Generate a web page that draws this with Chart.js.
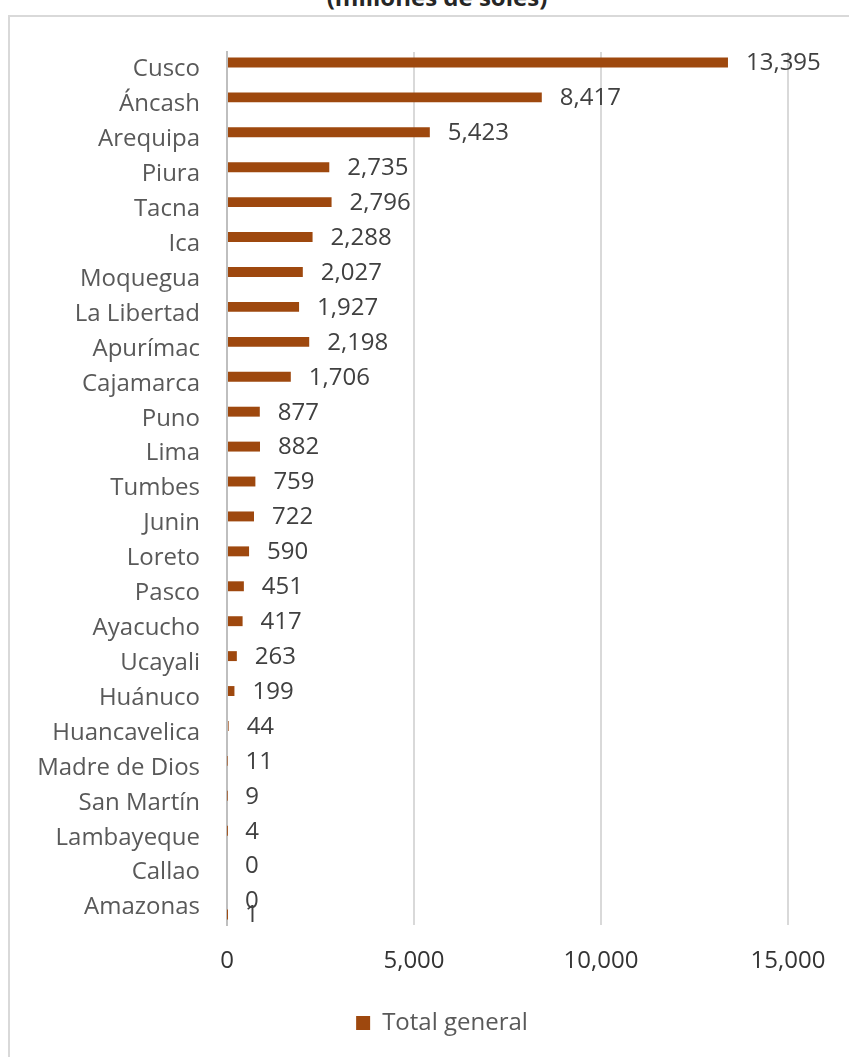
<!DOCTYPE html>
<html lang="es">
<head>
  <meta charset="UTF-8">
  <title>Total general por región</title>
  <script src="https://cdn.jsdelivr.net/npm/chart.js"></script>
  <style>
    html, body {
      margin: 0;
      width: 849px;
      height: 1057px;
      overflow: hidden;
      background: #fff;
      font-family: "Open Sans", sans-serif;
    }
    #frame {
      position: absolute;
      left: 8px;
      top: 15px;
      width: 900px;
      height: 1100px;
      border: 2px solid #d9d9d9;
      box-sizing: border-box;
    }
    #title {
      position: absolute;
      left: 0;
      width: 874px;
      top: -15px;
      text-align: center;
      font-weight: bold;
      font-size: 24px;
      line-height: 24px;
      color: #262626;
    }
    #wrap {
      position: absolute;
      left: 0;
      top: 0;
      width: 849px;
      height: 1057px;
    }
  </style>
</head>
<body>
  <div id="frame"></div>
  <div id="title">(millones de soles)</div>
  <div id="wrap"><canvas id="chart"></canvas></div>
  <script>
    // regiones y montos (millones de soles)
    const regiones = [
      "Cusco", "Áncash", "Arequipa", "Piura", "Tacna", "Ica", "Moquegua",
      "La Libertad", "Apurímac", "Cajamarca", "Puno", "Lima", "Tumbes",
      "Junin", "Loreto", "Pasco", "Ayacucho", "Ucayali", "Huánuco",
      "Huancavelica", "Madre de Dios", "San Martín", "Lambayeque", "Callao", "Amazonas"
    ];
    const totalGeneral = [
      13395, 8417, 5423, 2735, 2796, 2288, 2027,
      1927, 2198, 1706, 877, 882, 759,
      722, 590, 451, 417, 263, 199,
      44, 11, 9, 4, 0, 0
    ];
    // segunda serie sin nombre (solo aparece la etiqueta "1" en Amazonas)
    const serieExtra = [
      null, null, null, null, null, null, null,
      null, null, null, null, null, null,
      null, null, null, null, null, null,
      null, null, null, null, null, 1
    ];
    const ticksX = [0, 5000, 10000, 15000];

    const colorBarra = "#9e480e";
    const fmt = v => v.toLocaleString("en-US");

    // etiquetas de datos al final de cada barra
    const etiquetas = {
      id: "etiquetas",
      afterLayout(chart) {
        // la leyenda va algo a la derecha del centro, como en el original
        chart.legend.left += 48;
        chart.legend.right += 48;
      },
      afterDatasetsDraw(chart) {
        const ctx = chart.ctx;
        ctx.save();
        ctx.font = "24px 'Open Sans'";
        ctx.fillStyle = "#404040";
        ctx.textAlign = "left";
        ctx.textBaseline = "middle";
        chart.data.datasets.forEach((ds, i) => {
          const meta = chart.getDatasetMeta(i);
          meta.data.forEach((bar, j) => {
            const v = ds.data[j];
            if (v === null || v === undefined) return;
            ctx.fillText(fmt(v), bar.x + 18, bar.y + 1);
          });
        });
        ctx.restore();
      }
    };

    new Chart(document.getElementById("chart"), {
      type: "bar",
      data: {
        labels: regiones,
        datasets: [
          {
            label: "Total general",
            data: totalGeneral,
            backgroundColor: colorBarra,
            borderWidth: 0,
            categoryPercentage: 0.8,
            barPercentage: 0.71
          },
          {
            label: "",
            data: serieExtra,
            backgroundColor: colorBarra,
            borderWidth: 0,
            categoryPercentage: 0.8,
            barPercentage: 0.71
          }
        ]
      },
      options: {
        indexAxis: "y",
        responsive: true,
        maintainAspectRatio: false,
        animation: false,
        layout: {
          padding: { left: 0, right: 61, top: 52, bottom: 12 }
        },
        scales: {
          x: {
            min: 0,
            max: 15000,
            afterBuildTicks: axis => {
              axis.ticks = ticksX.map(v => ({ value: v }));
            },
            afterFit: axis => { axis.height = 76; },
            grid: { color: "#d9d9d9", lineWidth: 2, drawTicks: false },
            border: { display: false },
            ticks: {
              padding: 22,
              color: "#333333",
              font: { family: "Open Sans", size: 24 },
              callback: v => fmt(v)
            }
          },
          y: {
            afterFit: axis => { axis.width = 227; },
            grid: { display: false, drawTicks: false },
            border: { color: "#bfbfbf", width: 2 },
            ticks: {
              padding: 27,
              color: "#595959",
              font: { family: "Open Sans", size: 24 }
            }
          }
        },
        plugins: {
          legend: {
            position: "bottom",
            labels: {
              boxWidth: 14,
              boxHeight: 14,
              color: "#595959",
              font: { family: "Open Sans", size: 24 },
              filter: item => item.text !== ""
            }
          },
          tooltip: { enabled: false }
        }
      },
      plugins: [etiquetas]
    });
  </script>
</body>
</html>
